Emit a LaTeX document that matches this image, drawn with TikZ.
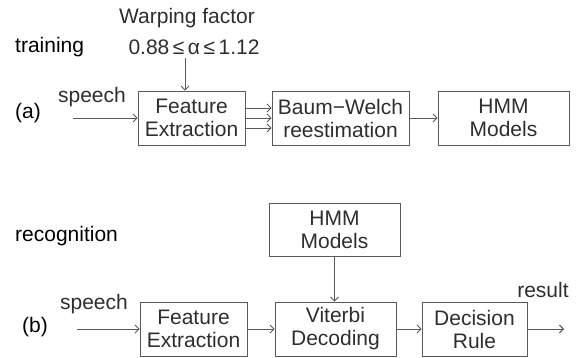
\documentclass[tikz,border=0pt]{standalone}
\usepackage{fontspec}
\setmainfont{Liberation Sans}
\usetikzlibrary{arrows.meta}
\definecolor{linegray}{HTML}{5A5A5A}
\definecolor{textgray}{HTML}{2E2E2E}
\tikzset{
  blk/.style={draw=linegray, line width=0.9pt, rectangle, align=center, inner sep=0pt,
    text=textgray, font=\fontsize{21}{23}\selectfont},
  lbl/.style={inner sep=0pt, text=textgray, font=\fontsize{21}{23}\selectfont},
  ttl/.style={inner sep=0pt, anchor=west, text=black, font=\fontsize{21}{23}\selectfont},
  arr/.style={draw=linegray, line width=0.9pt, -{Straight Barb[length=4pt,width=8pt]}},
}
\begin{document}
\begin{tikzpicture}[x=1pt,y=-1pt]
\useasboundingbox (0,0) rectangle (579,358);
% ---- training ----
\node[ttl] (train) at (15,47) {training};
\node[lbl] (wf) at (187,18) {Warping factor};
\node[lbl] (range) at (194,47) {0.88\,≤\,α\,≤\,1.12};
\node[ttl] (a) at (15,113) {(a)};
\node[lbl] (sp1) at (92,97) {speech};
\node[blk, minimum width=107pt, minimum height=54pt] (fe1) at (191.5,118) {Feature\\Extraction};
\node[blk, minimum width=137pt, minimum height=54pt] (bw) at (340.5,118) {Baum−Welch\\reestimation};
\node[blk, minimum width=131pt, minimum height=54pt] (hmm1) at (503.5,118) {HMM\\Models};
\coordinate (wfa) at (185,58);
\coordinate (sp1a) at (73,118);
\draw[arr] (wfa) -- (wfa |- fe1.north);
\draw[arr] (sp1a) -- (fe1.west);
\draw[arr] ([yshift=10pt]fe1.east) -- ([yshift=10pt]bw.west);
\draw[arr] (fe1.east) -- (bw.west);
\draw[arr] ([yshift=-10pt]fe1.east) -- ([yshift=-10pt]bw.west);
\draw[arr] (bw.east) -- (hmm1.west);
% ---- recognition ----
\node[ttl] (recog) at (15,236) {recognition};
\node[blk, minimum width=131pt, minimum height=53pt] (hmm2) at (334.5,229.5) {HMM\\Models};
\node[ttl] (b) at (22,327) {(b)};
\node[lbl] (sp2) at (94,304) {speech};
\node[blk, minimum width=107pt, minimum height=54pt] (fe2) at (193.5,329) {Feature\\Extraction};
\node[blk, minimum width=121pt, minimum height=54pt] (vd) at (335.5,329) {Viterbi\\Decoding};
\node[blk, minimum width=105pt, minimum height=54pt] (dr) at (474.5,329) {Decision\\Rule};
\node[lbl] (res) at (543,290) {result};
\coordinate (sp2a) at (77,329);
\coordinate (resa) at (564,329);
\draw[arr] (sp2a) -- (fe2.west);
\draw[arr] (fe2.east) -- (vd.west);
\draw[arr] (hmm2.south) -- (hmm2.south |- vd.north);
\draw[arr] (vd.east) -- (dr.west);
\draw[arr] (dr.east) -- (resa);
\end{tikzpicture}
\end{document}
